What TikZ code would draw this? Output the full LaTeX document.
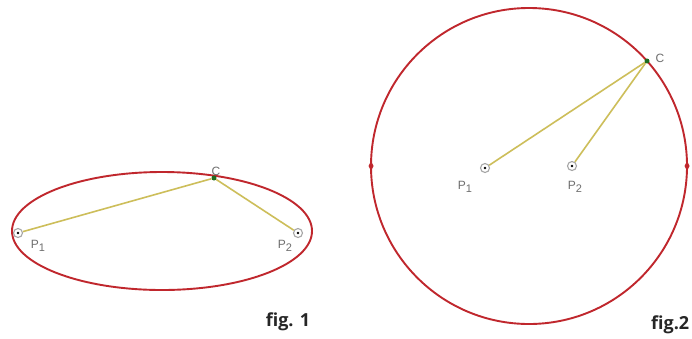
\documentclass[tikz,border=0pt]{standalone}
\usepackage{fontspec}
\setmainfont{Liberation Sans}
\newfontfamily\figfont{Open Sans}
\definecolor{curvered}{HTML}{C0272D}
\definecolor{segyellow}{HTML}{CDBE5A}
\definecolor{ptgreen}{HTML}{1E6B1E}
\definecolor{lblgray}{HTML}{6E6E6E}
\newcommand{\Psub}[1]{P\raisebox{-3.5pt}{\fontsize{11}{12}\selectfont #1}}
\begin{document}
\begin{tikzpicture}[x=1pt,y=-1pt,
  curve/.style={draw=curvered,line width=1.9pt},
  seg/.style={draw=segyellow,line width=1.6pt},
  focus/.style={circle,draw=gray!70,line width=1.1pt,fill=white,inner sep=0pt,minimum size=9pt,
    path picture={\fill[black] (path picture bounding box.center) circle (1.4pt);}},
  cpt/.style={circle,fill=ptgreen,inner sep=0pt,minimum size=5pt},
  plabel/.style={text=lblgray,font=\fontsize{12}{14}\selectfont,inner sep=0pt},
  figlabel/.style={text=black!85,font=\figfont\bfseries\fontsize{18}{20}\selectfont,inner sep=0pt}]
\clip (0,0) rectangle (692,338);
\fill[white] (0,0) rectangle (692,338);
% fig. 1
\draw[curve] (162,231) ellipse [x radius=150, y radius=59];
\node[focus] (a1) at (18,233) {};
\node[focus] (a2) at (298,233) {};
\node[cpt] (ac) at (214,178) {};
\draw[seg] (a1) -- (ac);
\draw[seg] (ac) -- (a2);
\node[plabel] (la1) at (38,246) {\Psub{1}};
\node[plabel] (la2) at (285,246) {\Psub{2}};
\node[plabel] (lac) at (216,171) {C};
\node[figlabel] (f1) at (288,322) {fig. 1};
% fig. 2
\draw[curve] (529,166) circle [radius=158];
\fill[curvered] (371,161) -- (373.5,166) -- (371,171) -- (368.5,166) -- cycle;
\fill[curvered] (687,161) -- (689.5,166) -- (687,171) -- (684.5,166) -- cycle;
\node[focus] (b1) at (485,168) {};
\node[focus] (b2) at (572,166) {};
\node[cpt] (bc) at (647,61) {};
\draw[seg] (b1) -- (bc);
\draw[seg] (b2) -- (bc);
\node[plabel] (lb1) at (465,187) {\Psub{1}};
\node[plabel] (lb2) at (575,187) {\Psub{2}};
\node[plabel] (lbc) at (660,58) {C};
\node[figlabel,anchor=west] (f2) at (651,325) {fig.2};
\end{tikzpicture}
\end{document}
